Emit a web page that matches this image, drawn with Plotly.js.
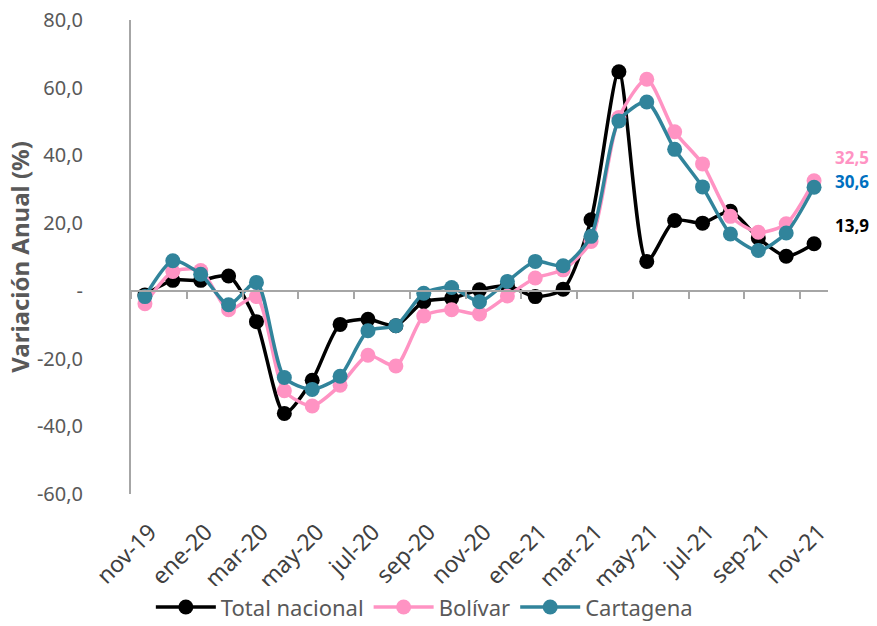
<!DOCTYPE html>
<html>
<head>
<meta charset="utf-8">
<script src="https://cdn.plot.ly/plotly-3.0.1.min.js"></script>
<style>html,body{margin:0;padding:0;background:#fff;}#chart{width:877px;height:626px;}</style>
</head>
<body>
<div id="chart"></div>
<script>
const months = ["nov-19","dic-19","ene-20","feb-20","mar-20","abr-20","may-20","jun-20","jul-20","ago-20","sep-20","oct-20","nov-20","dic-20","ene-21","feb-21","mar-21","abr-21","may-21","jun-21","jul-21","ago-21","sep-21","oct-21","nov-21"];
const tickLabels = ["nov-19","ene-20","mar-20","may-20","jul-20","sep-20","nov-20","ene-21","mar-21","may-21","jul-21","sep-21","nov-21"];
const totalNacional = [-1.2,3.1,3.1,4.4,-9.1,-36.2,-26.4,-9.9,-8.4,-10.3,-3.2,-2.2,0.3,1.5,-1.7,0.5,21.0,64.7,8.7,20.8,20.0,23.5,15.6,10.2,13.9];
const bolivar = [-3.8,5.7,6.0,-5.6,-1.7,-29.5,-34.0,-27.9,-19.0,-22.2,-7.4,-5.6,-6.8,-1.5,3.8,6.2,14.6,51.2,62.5,47.0,37.5,22.0,17.3,19.8,32.5];
const cartagena = [-1.7,8.9,4.9,-4.1,2.5,-25.6,-29.1,-25.2,-11.8,-10.3,-0.7,1.0,-3.2,2.8,8.7,7.4,16.1,50.2,55.8,41.8,30.7,16.8,11.9,17.1,30.6];
const yTickVals = [-60,-40,-20,0,20,40,60,80];
const yTickText = ["-60,0","-40,0","-20,0","-","20,0","40,0","60,0","80,0"];
const seriesNames = ["Total nacional","Bolívar","Cartagena"];
const seriesColors = ["#000000","#FF93C3","#31849B"];
const endLabelColors = ["#000000","#FF93C3","#0070C0"];

const fmt = v => v.toFixed(1).replace(".", ",");
const idx = months.map((m,i)=>i);
const allSeries = [totalNacional, bolivar, cartagena];

const traces = allSeries.map((s,k)=>({
  x: idx, y: s, name: seriesNames[k], type: "scatter", mode: "lines+markers",
  line: {color: seriesColors[k], width: 3.5, shape: "spline", smoothing: 0.7},
  marker: {color: seriesColors[k], size: 15},
  hoverinfo: "skip"
}));

const yshifts = [18, 23, 6];
const annotations = allSeries.map((s,k)=>({
  x: idx[idx.length-1], y: s[s.length-1], xref: "x", yref: "y",
  text: "<b>" + fmt(s[s.length-1]) + "</b>", showarrow: false,
  xanchor: "left", xshift: 19, yshift: yshifts[k],
  font: {family: "Noto Sans, Open Sans, sans-serif", size: 17, color: endLabelColors[k]}
}));

const zeroPos = (0 - (-60)) / (80 - (-60));

const layout = {
  width: 877, height: 626,
  margin: {l: 131, r: 49, t: 20, b: 132},
  paper_bgcolor: "#ffffff", plot_bgcolor: "#ffffff",
  font: {family: "Noto Sans, Open Sans, sans-serif", color: "#595959"},
  showlegend: true,
  legend: {orientation: "h", xref: "container", yref: "container", x: 0.172, xanchor: "left",
           y: 0.03, yanchor: "middle",
           font: {size: 22, color: "#595959"}, traceorder: "normal", itemwidth: 60},
  xaxis: {
    range: [-0.5, 24.5], tickmode: "array", automargin: false,
    tickvals: tickLabels.map(t => months.indexOf(t)), ticktext: tickLabels,
    tickangle: -45, ticks: "", showline: false, showgrid: false, zeroline: false,
    ticklabelstandoff: 19, ticklabelshift: 5,
    tickfont: {size: 23, color: "#404040"}, fixedrange: true
  },
  xaxis2: {
    overlaying: "x", anchor: "free", position: zeroPos, range: [-0.5, 24.5], automargin: false,
    tickmode: "linear", tick0: -0.5, dtick: 2, ticks: "outside", ticklen: 7,
    tickcolor: "#A6A6A6", tickwidth: 2, showticklabels: false, showline: true,
    linecolor: "#A6A6A6", linewidth: 2, showgrid: false, zeroline: false
  },
  yaxis: {
    range: [-60, 80], tickmode: "array", tickvals: yTickVals, ticktext: yTickText, automargin: false,
    showline: true, linecolor: "#A6A6A6", linewidth: 2, showgrid: false, zeroline: false,
    ticks: "", tickfont: {size: 20, color: "#595959"}, ticklabelstandoff: 42,
    title: {text: "<b>Variación Anual (%)</b>", font: {size: 24, color: "#595959"}, standoff: 0}
  },
  annotations: annotations
};

const dummy = {x: [-0.5, 24.5], y: [null, null], xaxis: "x2", yaxis: "y", mode: "lines", showlegend: false, hoverinfo: "skip"};

Plotly.newPlot("chart", [dummy].concat(traces), layout, {displayModeBar: false, staticPlot: true});
</script>
</body>
</html>
